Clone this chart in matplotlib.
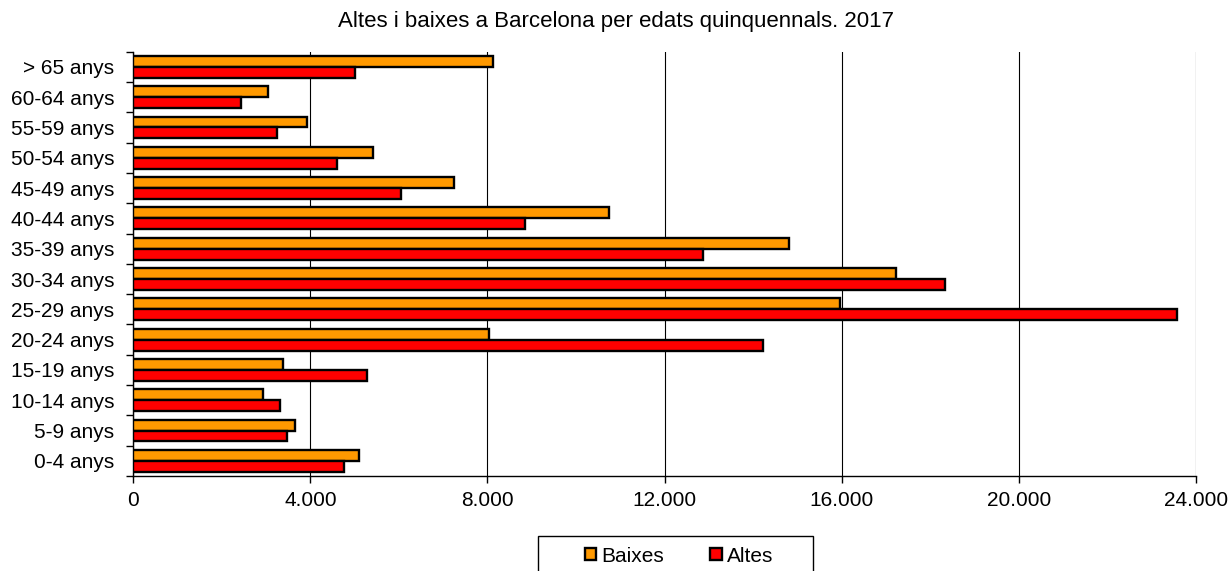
import matplotlib
matplotlib.use("Agg")
import matplotlib.pyplot as plt
from matplotlib.ticker import FuncFormatter, FixedLocator
from matplotlib.patches import Rectangle
import numpy as np

plt.rcParams['font.family'] = ['Liberation Sans', 'DejaVu Sans']

title = "Altes i baixes a Barcelona per edats quinquennals. 2017"
categories = ['0-4 anys', '5-9 anys', '10-14 anys', '15-19 anys', '20-24 anys',
              '25-29 anys', '30-34 anys', '35-39 anys', '40-44 anys', '45-49 anys',
              '50-54 anys', '55-59 anys', '60-64 anys', '> 65 anys']
baixes = [5093, 3647, 2938, 3383, 8031, 15958, 17232, 14811, 10747, 7247, 5409, 3932, 3051, 8136]
altes = [4754, 3466, 3315, 5288, 14221, 23568, 18326, 12874, 8853, 6050, 4610, 3247, 2426, 5017]
xticks = [0, 4000, 8000, 12000, 16000, 20000, 24000]

W, H = 1232, 571
fig = plt.figure(figsize=(W / 100, H / 100), dpi=100)
ax = fig.add_axes([133.3 / W, (H - 476) / H, (1195.7 - 133.3) / W, (476 - 51.7) / H])

fs = 15
y = np.arange(len(categories))
h = 0.36
ax.barh(y + h / 2, baixes, height=h, color='#FF9900', edgecolor='black', linewidth=1.7,
        label='Baixes', zorder=3)
ax.barh(y - h / 2, altes, height=h, color='#FF0000', edgecolor='black', linewidth=1.7,
        label='Altes', zorder=3)

ax.set_xlim(0, 24000)
ax.set_ylim(-0.5, len(categories) - 0.5)
ax.set_xticks(xticks)
ax.xaxis.set_major_formatter(FuncFormatter(lambda v, p: f"{int(v):,}".replace(',', '.')))
ax.set_yticks(y)
ax.set_yticklabels(categories)
ax.yaxis.set_minor_locator(FixedLocator(np.arange(-0.5, len(categories), 1.0)))
ax.tick_params(axis='y', which='major', length=0, pad=13.7, labelsize=fs)
ax.tick_params(axis='y', which='minor', length=5, width=1, direction='out', color='black')
ax.tick_params(axis='x', which='major', length=5, width=1, direction='out', pad=6, labelsize=fs)

for s in ['top', 'right']:
    ax.spines[s].set_visible(False)
for s in ['left', 'bottom']:
    ax.spines[s].set_linewidth(1)
    ax.spines[s].set_color('black')

ax.grid(axis='x', color='black', linewidth=0.8, zorder=0)
ax.set_axisbelow(True)

fig.text(615.5 / W, 1 - 21.5 / H, title, ha='center', va='center', fontsize=16)

handles, labels = ax.get_legend_handles_labels()
fig.legend(handles, labels, loc='center', bbox_to_anchor=(679 / W, 15 / H), ncol=2,
           frameon=False, fontsize=fs, handlelength=0.55, handleheight=0.55,
           handletextpad=0.25, columnspacing=2.2, borderpad=0)
fig.add_artist(Rectangle((538 / W, -0.1), (812.7 - 538) / W, (571 - 536) / H + 0.1,
                         transform=fig.transFigure, fill=False, edgecolor='black',
                         linewidth=1, clip_on=False))

fig.savefig('out.png', dpi=100)
